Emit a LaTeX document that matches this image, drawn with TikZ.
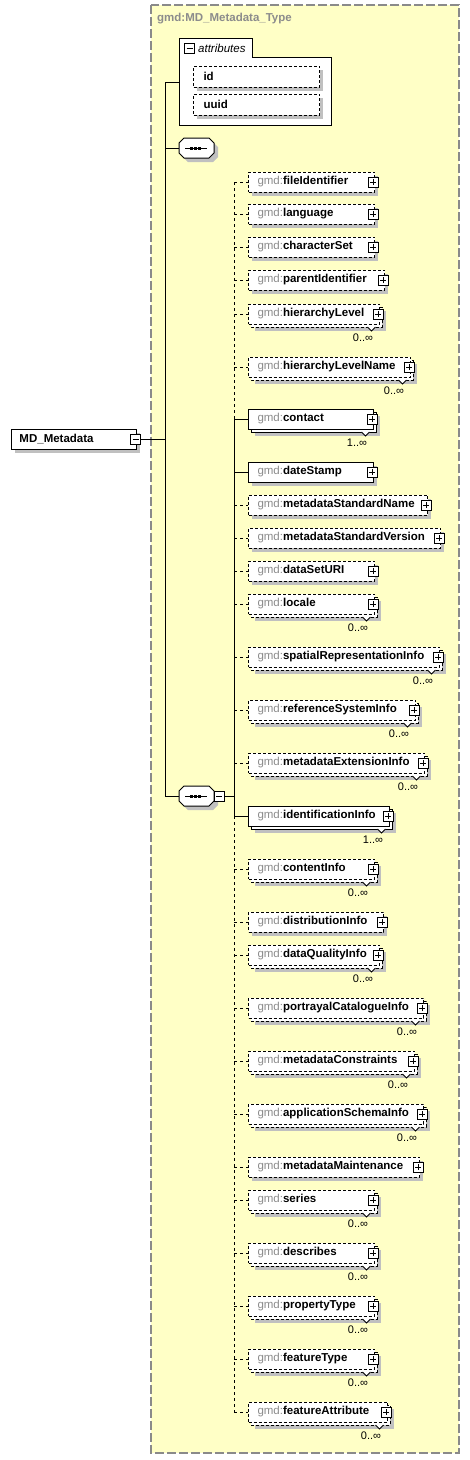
\documentclass[tikz,border=0pt]{standalone}
\usepackage{fontspec}
\setmainfont{Liberation Sans}
\usetikzlibrary{calc}
\definecolor{bgy}{HTML}{FFFFC6}
\definecolor{shadowc}{HTML}{C0C0C0}
\definecolor{gmdgray}{HTML}{8C8C8C}
\definecolor{framegray}{HTML}{8A8A8A}
\tikzset{
  every node/.style={font=\fontsize{11.5}{13}\selectfont},
  elbox/.style={draw, fill=white, line width=1pt, anchor=west, minimum height=20pt,
    inner xsep=9pt, inner ysep=0pt, align=left},
  optbox/.style={dash pattern=on 3pt off 2pt},
  reqbox/.style={solid},
  optline/.style={line width=1pt, dash pattern=on 3pt off 3pt},
  reqline/.style={line width=1pt},
  plusicon/.style={draw, solid, fill=white, line width=0.8pt, minimum size=10pt, inner sep=0pt,
    path picture={\draw[line width=0.8pt]
      ([xshift=-3pt]path picture bounding box.center) -- ([xshift=3pt]path picture bounding box.center)
      ([yshift=-3pt]path picture bounding box.center) -- ([yshift=3pt]path picture bounding box.center);}},
  minusicon/.style={draw, solid, fill=white, line width=0.8pt, minimum size=10pt, inner sep=0pt,
    path picture={\draw[line width=0.8pt]
      ([xshift=-3pt]path picture bounding box.center) -- ([xshift=3pt]path picture bounding box.center);}},
  mult/.style={font=\fontsize{11}{12}\selectfont, inner sep=0pt},
  conn/.style={line width=1pt},
}
\newcommand\gmdp{{\color{gmdgray}gmd:}}
% #1 name, #2 cy, #3 right edge, #4 element, #5 opt/req, #6 multiplicity
\newcommand\elem[6]{%
  \pgfmathsetmacro\ew{#3-248}%
  \pgfmathsetmacro\tw{#3-248-18}%
  \ifx\relax#6\relax
    \fill[shadowc] (252,#2-6) rectangle (#3+4,#2+14);
  \else
    \fill[shadowc] (255,#2-3) rectangle (#3+7,#2+17);
    \draw[#5box, line width=1pt, fill=white] (251,#2-7) rectangle (#3+3,#2+13);
  \fi
  \node[elbox,#5box,minimum width=\ew pt,text width=\tw pt] (#1) at (248,#2) {\gmdp\textbf{#4}};
  \ifx\relax#6\relax\else
    \filldraw[fill=white, line width=0.8pt, solid] (#3-11.5,#2+13) -- (#3-7.5,#2+17) -- (#3-3.5,#2+13);
    \node[mult] (#1m) at (#3-16,#2+24) {#6};
  \fi
  \node[plusicon] (#1i) at (#3-1,#2) {};
  \coordinate (#1s) at (234,#2);
  \draw[#5line] (#1s) -- (#1.west);
}
% sequence compositor: #1 name, #2 cy
\newcommand\seqc[2]{%
  \fill[shadowc] (188,#2-6) -- (213,#2-6) -- (218,#2-1) -- (218,#2+9) -- (213,#2+14)
    -- (188,#2+14) -- (183,#2+9) -- (183,#2-1) -- cycle;
  \draw[fill=white, line width=1pt] (184,#2-10) -- (209,#2-10) -- (214,#2-5) -- (214,#2+5)
    -- (209,#2+10) -- (184,#2+10) -- (179,#2+5) -- (179,#2-5) -- cycle;
  \draw[line width=1pt] (185,#2) -- (207,#2);
  \foreach \dx in {191.5,195.5,199.5} {\fill (\dx-1.5,#2-1.5) rectangle (\dx+1.5,#2+1.5);}
  \coordinate (#1w) at (179,#2);
  \coordinate (#1e) at (214,#2);
}
\begin{document}
\begin{tikzpicture}[x=1pt,y=-1pt]
\useasboundingbox (0,0) rectangle (470,1460);
% outer complex type frame
\draw[framegray, fill=bgy, line width=1.2pt, dash pattern=on 9pt off 3pt] (151,5) rectangle (459,1453);
\node[anchor=west, text=gmdgray, inner sep=0pt] (title) at (157,19) {\textbf{gmd:MD\_Metadata\_Type}};

% root element
\fill[shadowc] (15,433) rectangle (140,453);
\node[draw, fill=white, line width=1pt, anchor=west, minimum width=125pt, minimum height=20pt,
  inner xsep=8pt, inner ysep=0pt, text width=109pt, align=left] (md) at (11,439) {\textbf{MD\_Metadata}};
\node[minusicon] (mdi) at (135.5,439) {};

% attributes
\draw[fill=white, line width=1pt] (179,38) -- (252,38) -- (252,57) -- (331,57) -- (331,125) -- (179,125) -- cycle;
\coordinate (attrw) at (179,82);
\node[minusicon] (attri) at (189.5,48) {};
\node[anchor=west, inner sep=0pt] (attrt) at (198,48) {\itshape attributes};
\fill[shadowc] (197,70) rectangle (323,91);
\node[elbox, optbox, minimum width=126pt, minimum height=21pt, inner xsep=10pt, text width=106pt] (aid) at (193,76.5) {\textbf{id}};
\fill[shadowc] (197,98) rectangle (323,119);
\node[elbox, optbox, minimum width=126pt, minimum height=21pt, inner xsep=10pt, text width=106pt] (auuid) at (193,104.5) {\textbf{uuid}};

% compositors
\seqc{seqA}{148}
\seqc{seqB}{796}
\node[minusicon] (seqBi) at (219,796) {};

% spine of the type
\coordinate (ja) at (165,82);
\coordinate (jb) at (165,148);
\coordinate (jc) at (165,796);
\coordinate (j0) at (165,439);
\draw[conn] (ja) -- (jc);
\draw[conn] (mdi.east) -- (j0);
\draw[conn] (ja) -- (attrw);
\draw[conn] (jb) -- (seqAw);
\draw[conn] (jc) -- (seqBw);
\coordinate (sbj) at (234,796);
\draw[conn] (seqBi.east) -- (sbj);

% children of the sequence
\elem{e1}{182}{374}{fileIdentifier}{opt}{}
\elem{e2}{214}{374}{language}{opt}{}
\elem{e3}{247}{374}{characterSet}{opt}{}
\elem{e4}{280}{384}{parentIdentifier}{opt}{}
\elem{e5}{314}{379}{hierarchyLevel}{opt}{0..∞}
\elem{e6}{367}{410}{hierarchyLevelName}{opt}{0..∞}
\elem{e7}{419}{373}{contact}{req}{1..∞}
\elem{e8}{472}{373}{dateStamp}{req}{}
\elem{e9}{505}{427}{metadataStandardName}{opt}{}
\elem{e10}{538}{440}{metadataStandardVersion}{opt}{}
\elem{e11}{571}{374}{dataSetURI}{opt}{}
\elem{e12}{604}{374}{locale}{opt}{0..∞}
\elem{e13}{657}{439}{spatialRepresentationInfo}{opt}{0..∞}
\elem{e14}{710}{415}{referenceSystemInfo}{opt}{0..∞}
\elem{e15}{763}{424}{metadataExtensionInfo}{opt}{0..∞}
\elem{e16}{816}{389}{identificationInfo}{req}{1..∞}
\elem{e17}{869}{374}{contentInfo}{opt}{0..∞}
\elem{e18}{922}{383}{distributionInfo}{opt}{}
\elem{e19}{955}{379}{dataQualityInfo}{opt}{0..∞}
\elem{e20}{1008}{423}{portrayalCatalogueInfo}{opt}{0..∞}
\elem{e21}{1061}{414}{metadataConstraints}{opt}{0..∞}
\elem{e22}{1114}{423}{applicationSchemaInfo}{opt}{0..∞}
\elem{e23}{1167}{419}{metadataMaintenance}{opt}{}
\elem{e24}{1200}{374}{series}{opt}{0..∞}
\elem{e25}{1253}{374}{describes}{opt}{0..∞}
\elem{e26}{1306}{374}{propertyType}{opt}{0..∞}
\elem{e27}{1359}{374}{featureType}{opt}{0..∞}
\elem{e28}{1412}{387}{featureAttribute}{opt}{0..∞}

% vertical line of the sequence
\draw[optline] (e1s) -- (e7s);
\draw[reqline] (e7s) -- (e16s);
\draw[optline] (e16s) -- (e28s);
\end{tikzpicture}
\end{document}
